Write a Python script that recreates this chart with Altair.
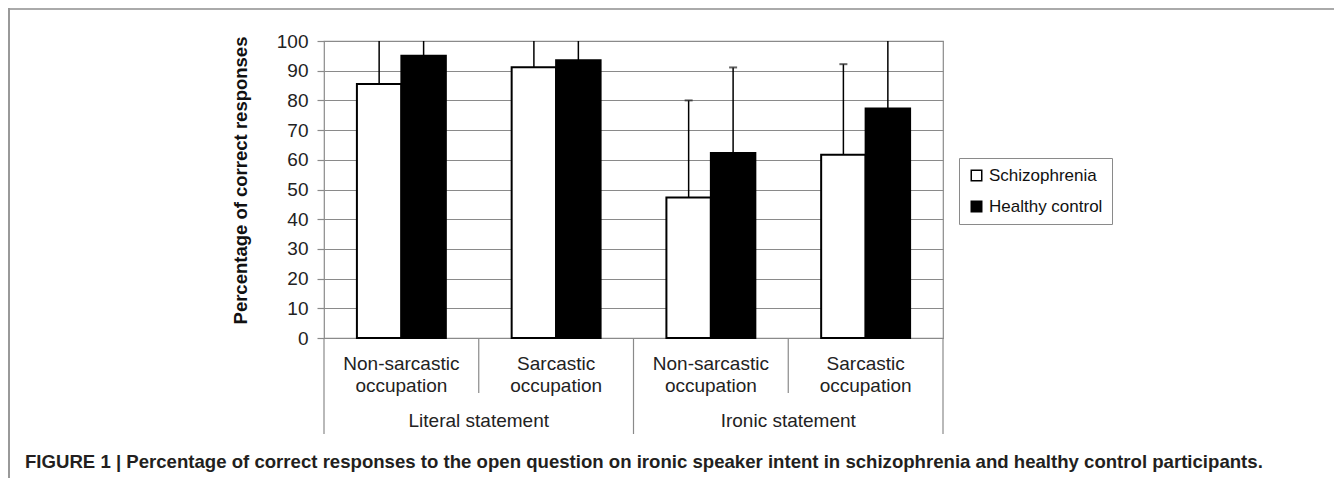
import altair as alt
import pandas as pd

# ---- data ----
conditions = ["Literal|Non-sarcastic", "Literal|Sarcastic", "Ironic|Non-sarcastic", "Ironic|Sarcastic"]
condition_labels = ["Non-sarcastic\noccupation", "Sarcastic\noccupation",
                    "Non-sarcastic\noccupation", "Sarcastic\noccupation"]
statement_labels = ["Literal statement", "Ironic statement"]
statement_anchor = ["Literal|Non-sarcastic", "Ironic|Non-sarcastic"]
groups = ["Schizophrenia", "Healthy control"]
schizophrenia_mean = [85.5, 91.2, 47.3, 61.7]
control_mean = [95.0, 93.5, 62.3, 77.3]
schizophrenia_upper = [106.0, 104.0, 80.0, 92.2]
control_upper = [103.0, 101.5, 91.1, 104.0]
y_ticks = [0, 10, 20, 30, 40, 50, 60, 70, 80, 90, 100]
caption = ("FIGURE 1 | Percentage of correct responses to the open question on ironic "
           "speaker intent in schizophrenia and healthy control participants.")

rows = []
for i, c in enumerate(conditions):
    rows.append({"cond": c, "group": groups[0], "mean": schizophrenia_mean[i], "upper": schizophrenia_upper[i]})
    rows.append({"cond": c, "group": groups[1], "mean": control_mean[i], "upper": control_upper[i]})
df = pd.DataFrame(rows)
lab_df = pd.DataFrame({"cond": conditions, "label": condition_labels})
stmt_df = pd.DataFrame({"cond": statement_anchor, "label": statement_labels})
short_sep = pd.DataFrame({"cond": [conditions[0], conditions[2]]})
long_sep = pd.DataFrame({"cond": [conditions[1], conditions[3]]})
left_sep = pd.DataFrame({"cond": [conditions[0]]})
one = pd.DataFrame({"k": [0]})

W, H = 619, 297
FONT = "Liberation Sans"
GRAY = "#8a8a8a"

xscale = alt.Scale(domain=conditions, paddingInner=0, paddingOuter=0)
x_enc = alt.X("cond:N", scale=xscale, axis=None)
xoff = alt.XOffset("group:N", scale=alt.Scale(domain=groups, paddingInner=0, paddingOuter=0.74))
yscale = alt.Scale(domain=[0, 100], nice=False)

y_axis = alt.Axis(values=y_ticks, title="Percentage of correct responses",
                  domain=False, grid=True, gridColor=GRAY, gridWidth=1.2,
                  tickColor=GRAY, tickSize=7, tickWidth=1.2,
                  labelFont=FONT, labelFontSize=19, labelColor="#222",
                  labelPadding=9, labelOverlap=False,
                  titleFont=FONT, titleFontSize=18.5, titleFontWeight="bold",
                  titleColor="#111", titleX=-84, titleY=139,
                  titleBaseline="middle", titleAlign="center", titleAngle=270)

bars = alt.Chart(df).mark_bar(stroke="black", strokeWidth=2).encode(
    x=x_enc,
    xOffset=xoff,
    y=alt.Y("mean:Q", scale=yscale, axis=y_axis),
    fill=alt.Fill("group:N", scale=alt.Scale(domain=groups, range=["white", "black"]),
                  legend=alt.Legend(title=None, orient="none", legendX=635, legendY=117,
                                    strokeColor=GRAY, padding=9, symbolType="square",
                                    symbolSize=110, symbolStrokeColor="black",
                                    symbolStrokeWidth=1.5, labelFont=FONT,
                                    labelFontSize=17, labelColor="#111",
                                    labelOffset=4, rowPadding=13)),
)

err = alt.Chart(df).mark_rule(color="black", strokeWidth=1.5, clip=True).encode(
    x=x_enc, xOffset=xoff, y=alt.Y("mean:Q", scale=yscale, axis=y_axis), y2="upper:Q"
)
caps = alt.Chart(df).transform_filter("datum.upper <= 100").mark_tick(
    color="#222", thickness=2, size=8
).encode(x=x_enc, xOffset=xoff, y=alt.Y("upper:Q", scale=yscale, axis=y_axis))

sub_labels = alt.Chart(lab_df).mark_text(
    lineBreak="\n", font=FONT, fontSize=19, lineHeight=22, baseline="alphabetic", color="#222"
).encode(x=x_enc, y=alt.value(329), text="label:N")

stmt_labels = alt.Chart(stmt_df).mark_text(
    font=FONT, fontSize=19, baseline="alphabetic", color="#222"
).encode(x=alt.X("cond:N", scale=xscale, axis=None, bandPosition=1),
         y=alt.value(386), text="label:N")

short_rules = alt.Chart(short_sep).mark_rule(color=GRAY, strokeWidth=1.2).encode(
    x=alt.X("cond:N", scale=xscale, axis=None, bandPosition=1),
    y=alt.value(H), y2=alt.value(352))
long_rules = alt.Chart(long_sep).mark_rule(color=GRAY, strokeWidth=1.2).encode(
    x=alt.X("cond:N", scale=xscale, axis=None, bandPosition=1),
    y=alt.value(H), y2=alt.value(393))
left_rule = alt.Chart(left_sep).mark_rule(color=GRAY, strokeWidth=1.2).encode(
    x=alt.X("cond:N", scale=xscale, axis=None, bandPosition=0),
    y=alt.value(H), y2=alt.value(393))

frame_top = alt.Chart(one).mark_rule(color="#aaaaaa", strokeWidth=2).encode(
    x=alt.value(-316), x2=alt.value(1010), y=alt.value(-32))
frame_left = alt.Chart(one).mark_rule(color="#999999", strokeWidth=2).encode(
    x=alt.value(-315), y=alt.value(-33), y2=alt.value(437))

cap_text = alt.Chart(one).mark_text(
    font=FONT, fontSize=18.6, fontWeight="bold", align="left", baseline="alphabetic", color="#231f20"
).encode(x=alt.value(-299), y=alt.value(427), text=alt.value(caption))

chart = alt.layer(
    bars, err, caps, sub_labels, stmt_labels, short_rules, long_rules, left_rule,
    frame_top, frame_left, cap_text
).properties(
    width=W, height=H,
    autosize=alt.AutoSizeParams(type="none"),
    padding={"left": 316, "top": 33, "right": 391, "bottom": 140},
).configure_view(stroke=GRAY, strokeWidth=1.2)

chart.save("out.html", embed_options={"renderer": "svg", "actions": False})
